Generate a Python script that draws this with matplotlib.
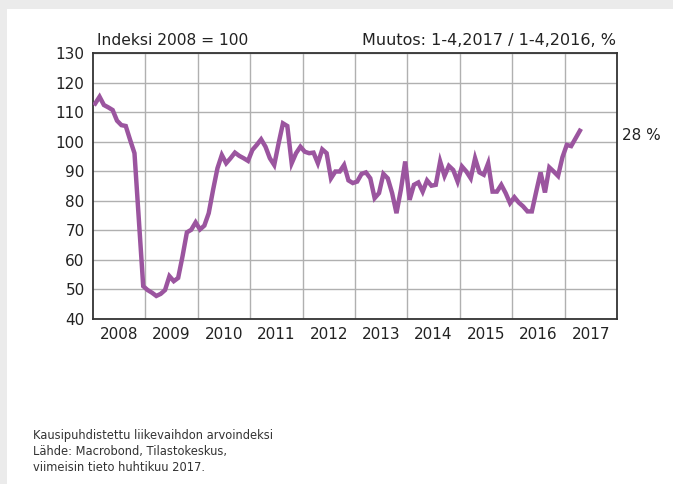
import matplotlib.pyplot as plt
import matplotlib.ticker as mticker
from matplotlib.patches import Rectangle
import numpy as np

# monthly index, Jan 2008 .. Apr 2017 (2008 = 100)
values = [
    112.9, 115.2, 112.4, 111.6, 110.7, 107.1, 105.6, 105.3, 100.6, 96.1, 73.6, 51.1,   # 2008
    49.8, 48.9, 47.8, 48.5, 49.8, 54.5, 52.8, 53.9, 61.2, 69.3, 70.2, 72.7,           # 2009
    70.3, 71.6, 75.8, 83.7, 91.0, 95.5, 92.7, 94.4, 96.3, 95.2, 94.4, 93.5,           # 2010
    97.2, 98.9, 100.8, 98.3, 94.4, 92.1, 99.4, 106.2, 105.3, 92.7, 96.1, 98.3,        # 2011
    96.6, 96.1, 96.3, 92.7, 97.4, 96.1, 87.6, 89.9, 89.9, 92.1, 86.9, 86.0,           # 2012
    86.5, 89.1, 89.6, 87.6, 80.9, 82.6, 89.1, 87.6, 82.6, 75.8, 83.7, 93.3,           # 2013
    80.3, 85.4, 86.2, 83.1, 86.9, 85.1, 85.4, 93.3, 88.4, 91.8, 90.4, 86.5,           # 2014
    91.6, 89.9, 87.6, 94.4, 89.6, 88.8, 92.7, 83.1, 83.1, 85.4, 82.6, 79.2,           # 2015
    81.2, 79.4, 78.1, 76.4, 76.4, 83.1, 89.6, 82.8, 91.3, 89.9, 88.4, 94.7,           # 2016
    98.9, 98.5, 101.1, 103.7,                                                         # 2017
]
years = list(range(2008, 2018))
y_ticks = list(range(40, 131, 10))
change_label = "28 %"

months = np.arange(len(values))
x = 2008 + (months + 0.5) / 12

fig = plt.figure(figsize=(6.73, 4.84), dpi=100, facecolor="white")
# grey page border at top and left
fig.patches.append(Rectangle((0, 1 - 9 / 484), 1, 9 / 484, transform=fig.transFigure,
                             facecolor="#ebebeb", edgecolor="none"))
fig.patches.append(Rectangle((0, 0), 7 / 673, 1, transform=fig.transFigure,
                             facecolor="#ebebeb", edgecolor="none"))

ax = fig.add_axes([93 / 673, 1 - 319 / 484, 524 / 673, 266 / 484])
ax.plot(x, values, color="#9b559f", linewidth=3.2, solid_joinstyle="miter", zorder=3)

ax.set_xlim(2008, 2018)
ax.set_ylim(40, 130)
ax.set_yticks(y_ticks)
ax.set_xticks(years[1:])
ax.xaxis.set_major_formatter(mticker.NullFormatter())
ax.set_xticks([yr + 0.5 for yr in years], labels=[str(yr) for yr in years], minor=True)
ax.tick_params(axis="both", which="both", length=0, labelsize=11, labelcolor="#222222")
ax.tick_params(axis="x", which="minor", pad=6)
ax.tick_params(axis="y", pad=6)
ax.grid(True, which="major", color="#b0b0b0", linewidth=1.0)
for s in ax.spines.values():
    s.set_color("#333333")
    s.set_linewidth(1.3)

ax.text(0.007, 1.02, "Indeksi 2008 = 100", transform=ax.transAxes, ha="left", va="bottom",
        fontsize=11.2, color="#222222")
ax.text(0.998, 1.02, "Muutos: 1-4,2017 / 1-4,2016, %", transform=ax.transAxes, ha="right",
        va="bottom", fontsize=11.5, color="#222222")
ax.text(1.01, values[-1] - 1.5, change_label, transform=ax.get_yaxis_transform(),
        ha="left", va="center", fontsize=11, color="#222222")

fig.text(33 / 673, 1 - 429 / 484, "Kausipuhdistettu liikevaihdon arvoindeksi\n"
         "Lähde: Macrobond, Tilastokeskus,\nviimeisin tieto huhtikuu 2017.",
         ha="left", va="top", fontsize=8.3, color="#333333", linespacing=1.3)

fig.savefig("out.png", dpi=100, facecolor="white")
